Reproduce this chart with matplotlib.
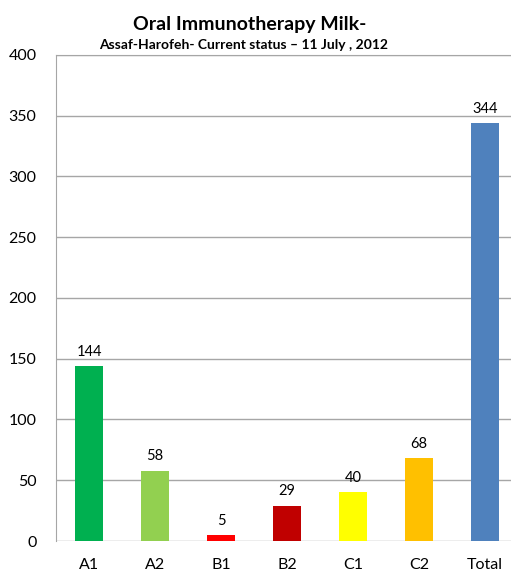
import matplotlib.pyplot as plt

categories = ['A1', 'A2', 'B1', 'B2', 'C1', 'C2', 'Total']
counts = [144, 58, 5, 29, 40, 68, 344]
colors = ['#00B050', '#92D050', '#FF0000', '#C00000', '#FFFF00', '#FFC000', '#4F81BD']

plt.rcParams['font.family'] = ['Lato', 'DejaVu Sans']

fig = plt.figure(figsize=(5.11, 5.78), dpi=100)
ax = fig.add_axes([0.1096, 0.064, 0.904, 0.841])

x = range(len(categories))
bars = ax.bar(x, counts, width=0.42, color=colors, zorder=3)
for xi, v in zip(x, counts):
    ax.text(xi, v + 6, str(v), ha='center', va='bottom', fontsize=10.5)

ax.set_xlim(-0.5, len(categories) - 0.5)
ax.set_ylim(0, 400)
ax.set_yticks(range(0, 401, 50))
ax.set_xticks(list(x))
ax.set_xticklabels(categories)
ax.tick_params(axis='both', length=0, labelsize=11.5)
ax.tick_params(axis='y', pad=14)
ax.tick_params(axis='x', pad=12)
ax.grid(axis='y', color='#A6A6A6', linewidth=1, zorder=0)
for side in ['right', 'bottom']:
    ax.spines[side].set_visible(False)
ax.spines['left'].set_color('#A6A6A6')
ax.spines['top'].set_color('#A6A6A6')

fig.text(0.489, 0.957, 'Oral Immunotherapy Milk-', ha='center', va='center',
         fontsize=14, fontweight='bold')
fig.text(0.476, 0.922, 'Assaf-Harofeh- Current status \u2013 11 July , 2012',
         ha='center', va='center', fontsize=10, fontweight='bold')

fig.savefig('out.png', dpi=100)
